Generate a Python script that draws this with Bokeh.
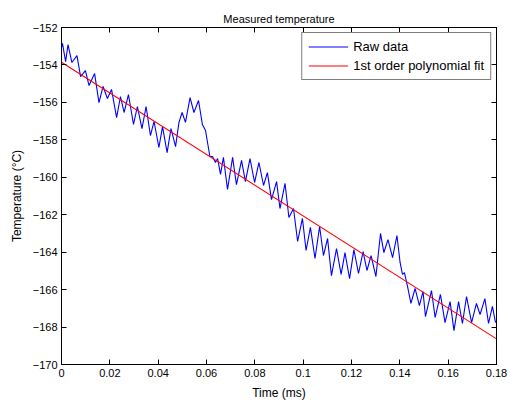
from bokeh.plotting import figure
from bokeh.models import Range1d, LinearAxis, FixedTicker, Legend, LegendItem, CustomJSTickFormatter
from bokeh.embed import file_html
from bokeh.resources import INLINE

# Raw data
time_ms = [0.0, 0.0004, 0.0017, 0.0027, 0.0043, 0.0064, 0.0079, 0.0099, 0.0114, 0.0137,
           0.0155, 0.0172, 0.0190, 0.0207, 0.0228, 0.0244, 0.0259, 0.0277, 0.0298, 0.0314,
           0.0333, 0.0350, 0.0368, 0.0383, 0.0403, 0.0418, 0.0437, 0.0453, 0.0472, 0.0486,
           0.0499, 0.0513, 0.0532, 0.0548, 0.0567, 0.0583, 0.0596, 0.0614, 0.0625, 0.0637,
           0.0646, 0.0658, 0.0670, 0.0687, 0.0708, 0.0724, 0.0745, 0.0761, 0.0780, 0.0799,
           0.0817, 0.0836, 0.0852, 0.0869, 0.0890, 0.0904, 0.0925, 0.0941, 0.0960, 0.0977,
           0.0997, 0.1012, 0.1030, 0.1049, 0.1068, 0.1084, 0.1101, 0.1117, 0.1138, 0.1157,
           0.1173, 0.1192, 0.1210, 0.1229, 0.1248, 0.1264, 0.1281, 0.1301, 0.1320, 0.1334,
           0.1351, 0.1370, 0.1388, 0.1401, 0.1411, 0.1419, 0.1432, 0.1446, 0.1463, 0.1481,
           0.1496, 0.1506, 0.1531, 0.1546, 0.1568, 0.1587, 0.1608, 0.1624, 0.1643, 0.1659,
           0.1676, 0.1697, 0.1717, 0.1732, 0.1752, 0.1767, 0.1783, 0.1796]

temp_c = [-153.07, -152.85, -153.82, -152.91, -153.87, -153.50, -154.62, -154.30, -155.10, -154.46,
          -156.01, -155.15, -155.79, -155.31, -156.81, -155.69, -156.54, -155.58, -157.18, -156.22,
          -157.40, -156.22, -157.77, -157.02, -158.41, -157.29, -158.68, -157.40, -158.36, -157.07,
          -156.54, -157.07, -155.74, -156.54, -155.90, -157.18, -157.50, -158.89, -158.89, -159.21,
          -159.00, -159.85, -158.94, -160.65, -158.94, -160.39, -159.10, -160.23, -159.00, -160.28,
          -159.21, -160.44, -159.75, -161.19, -160.23, -161.67, -160.33, -162.15, -161.67, -163.43,
          -162.20, -163.91, -162.68, -164.34, -162.63, -164.18, -163.27, -165.25, -163.81, -165.19,
          -164.02, -165.41, -163.86, -165.14, -163.97, -164.98, -164.18, -165.30, -163.00, -164.02,
          -163.33, -164.29, -163.11, -164.55, -165.19, -165.09, -165.84, -166.74, -165.94, -166.85,
          -166.10, -167.44, -166.05, -167.49, -166.26, -167.76, -166.64, -168.19, -166.64, -167.81,
          -166.37, -167.76, -166.74, -167.33, -166.48, -167.81, -166.90, -167.76]

# 1st order polynomial fit (end points)
fit_time = [0.0, 0.18]
fit_temp = [-153.86, -168.63]

x_ticks = [0.0, 0.02, 0.04, 0.06, 0.08, 0.1, 0.12, 0.14, 0.16, 0.18]
x_tick_labels = ["0", "0.02", "0.04", "0.06", "0.08", "0.1", "0.12", "0.14", "0.16", "0.18"]
y_ticks = [-170, -168, -166, -164, -162, -160, -158, -156, -154, -152]

FONT = "Liberation Sans"

p = figure(width=510, height=403, output_backend="svg", toolbar_location=None,
           x_range=Range1d(0, 0.18), y_range=Range1d(-170, -152),
           min_border_left=61, min_border_right=14, min_border_top=27, min_border_bottom=39,
           title="Measured temperature")
p.background_fill_color = "white"
p.border_fill_color = "white"
p.outline_line_color = "black"
p.outline_line_width = 1
p.outline_line_alpha = 1
p.xgrid.visible = False
p.ygrid.visible = False

p.title.align = "center"
p.title.text_font = FONT
p.title.text_font_size = "11px"
p.title.text_font_style = "normal"
p.title.text_color = "black"
p.title.standoff = 6

r_raw = p.line(time_ms, temp_c, line_color="#0000ff", line_width=1.1)
r_fit = p.line(fit_time, fit_temp, line_color="#ff0000", line_width=1.1)


def style(ax, labels=True):
    ax.axis_line_color = "black"
    ax.major_tick_line_color = "black"
    ax.major_tick_in = 5
    ax.major_tick_out = 0
    ax.minor_tick_in = 0
    ax.minor_tick_out = 0
    ax.minor_tick_line_color = None
    if labels:
        ax.major_label_text_font = FONT
        ax.major_label_text_font_size = "11px"
        ax.major_label_text_color = "black"
        ax.major_label_standoff = 4
        ax.axis_label_text_font = FONT
        ax.axis_label_text_font_size = "12px"
        ax.axis_label_text_font_style = "normal"
        ax.axis_label_text_color = "black"
    else:
        ax.formatter = CustomJSTickFormatter(code="return ''")
        ax.major_label_text_font_size = "1px"
        ax.major_label_standoff = 0


xa = p.xaxis[0]
xa.ticker = FixedTicker(ticks=x_ticks)
xa.major_label_overrides = {t: l for t, l in zip(x_ticks, x_tick_labels)}
xa.axis_label = "Time (ms)"
style(xa)
xa.axis_label_standoff = 6

ya = p.yaxis[0]
ya.ticker = FixedTicker(ticks=y_ticks)
ya.axis_label = "Temperature (°C)"
style(ya)
ya.axis_label_standoff = 6

top = LinearAxis(ticker=FixedTicker(ticks=x_ticks))
style(top, labels=False)
top.major_label_standoff = 5
p.add_layout(top, "above")
right = LinearAxis(ticker=FixedTicker(ticks=y_ticks))
style(right, labels=False)
p.add_layout(right, "right")

legend = Legend(items=[LegendItem(label="Raw data", renderers=[r_raw]),
                       LegendItem(label="1st order polynomial fit", renderers=[r_fit])],
                location="top_right")
legend.border_line_color = "black"
legend.border_line_width = 1
legend.background_fill_color = "white"
legend.background_fill_alpha = 1
legend.margin = 5
legend.padding = 6
legend.spacing = 4
legend.glyph_width = 40
legend.glyph_height = 15
legend.label_height = 15
legend.label_standoff = 5
legend.label_text_font = FONT
legend.label_text_font_size = "13px"
legend.label_text_color = "black"
p.add_layout(legend)

open("out.html", "w").write(file_html(p, INLINE))
